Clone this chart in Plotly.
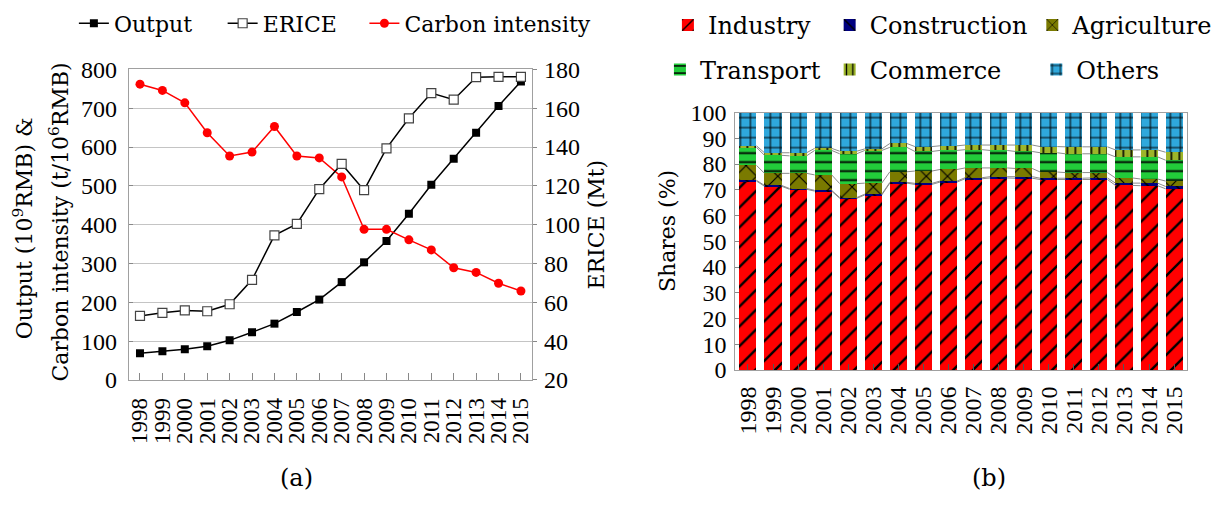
import plotly.graph_objects as go

# ---------------- data ----------------
years = ["1998", "1999", "2000", "2001", "2002", "2003", "2004", "2005", "2006",
         "2007", "2008", "2009", "2010", "2011", "2012", "2013", "2014", "2015"]

# (a) output (10^9 RMB), ERICE (Mt), carbon intensity (t/10^6 RMB)
output = [69, 74, 79, 87, 102, 123, 145, 175, 207, 252, 303, 358, 428, 503, 570, 637, 706, 769]
erice = [53.0, 54.6, 55.8, 55.4, 59.0, 71.6, 94.5, 100.4, 118.3, 131.3, 117.8, 139.3,
         154.8, 167.8, 164.4, 176.0, 176.2, 176.2]
carbon = [762, 746, 714, 637, 577, 587, 653, 577, 572, 523, 388, 388, 361, 335, 289, 277, 249, 229]

# (b) sector shares of ERICE (%)
industry = [73.4, 71.4, 70.2, 69.5, 66.7, 68.0, 72.6, 72.1, 73.0, 74.3, 74.6, 74.5,
            74.0, 74.0, 74.0, 71.7, 71.6, 70.4]
construction = [0.3, 0.3, 0.3, 0.3, 0.3, 0.3, 0.3, 0.4, 0.4, 0.4, 0.5, 0.6,
                0.5, 0.5, 0.6, 0.9, 1.0, 0.9]
agriculture = [5.8, 4.7, 5.9, 6.0, 5.4, 4.3, 4.1, 4.8, 4.5, 3.8, 3.4, 3.2,
               2.4, 2.2, 2.1, 2.0, 1.6, 2.1]
transport = [7.0, 7.0, 6.8, 9.5, 11.6, 12.7, 9.5, 7.6, 7.4, 7.1, 6.8, 6.6,
             7.5, 7.3, 7.3, 8.2, 8.6, 8.1]
commerce = [0.6, 1.0, 1.2, 0.8, 1.0, 0.6, 1.5, 1.9, 1.8, 1.8, 2.1, 2.5,
            2.4, 2.7, 2.7, 2.7, 2.7, 3.1]
others = [12.9, 15.6, 15.6, 13.9, 15.0, 14.1, 12.0, 13.2, 12.9, 12.6, 12.6, 12.6,
          13.2, 13.3, 13.3, 14.5, 14.5, 15.4]

left_ticks = [0, 100, 200, 300, 400, 500, 600, 700, 800]
right_ticks = [20, 40, 60, 80, 100, 120, 140, 160, 180]
share_ticks = [0, 10, 20, 30, 40, 50, 60, 70, 80, 90, 100]

# ---------------- page geometry helpers ----------------
W, H = 1230, 506


def fx(px):
    return px / W


def fy(py):
    return 1 - py / H


SERIF_NUM = "Liberation Serif"
SERIF_TXT = "DejaVu Serif"
pos = list(range(len(years)))

fig = go.Figure()

# ---------------- (a) line chart ----------------
fig.add_trace(go.Scatter(
    x=pos, y=output, name="Output", mode="lines+markers",
    line=dict(color="black", width=1.5),
    marker=dict(symbol="square", size=8, color="black"),
    xaxis="x", yaxis="y", legend="legend"))
fig.add_trace(go.Scatter(
    x=pos, y=erice, name="ERICE", mode="lines+markers",
    line=dict(color="black", width=1.5),
    marker=dict(symbol="square", size=9, color="white", line=dict(color="#444", width=1.2)),
    xaxis="x", yaxis="y2", legend="legend2"))
fig.add_trace(go.Scatter(
    x=pos, y=carbon, name="Carbon intensity", mode="lines+markers",
    line=dict(color="#ff0000", width=1.5),
    marker=dict(symbol="circle", size=9, color="#ff0000"),
    xaxis="x", yaxis="y", legend="legend3"))

# ---------------- (b) stacked bars ----------------
sectors = [
    ("Industry", industry, "#ff0000", "/", 14, 0.17, "legend4"),
    ("Construction", construction, "#000080", "\\", 10, 0.18, "legend5"),
    ("Agriculture", agriculture, "#7a7a00", "x", 15, 0.15, "legend6"),
    ("Transport", transport, "#22cc3a", "-", 9, 0.2, "legend7"),
    ("Commerce", commerce, "#9db52a", "|", 8, 0.2, "legend8"),
    ("Others", others, "#2fa8dc", "+", 10, 0.2, "legend9"),
]
for name, vals, col, shape, size, solid, leg in sectors:
    fig.add_trace(go.Bar(
        x=pos, y=vals, name=name,
        marker=dict(color=col, line=dict(width=0),
                    pattern=dict(shape=shape, fgcolor="black", bgcolor=col, fgopacity=1,
                                 size=size, solidity=solid, fillmode="overlay")),
        xaxis="x2", yaxis="y3", legend=leg))

# series lines joining segment boundaries of neighbouring bars
BARGAP = 0.32
hw = (1 - BARGAP) / 2
cum = [0.0] * len(years)
for name, vals, *_ in sectors[:-1]:
    cum = [c + v for c, v in zip(cum, vals)]
    lx, ly = [], []
    for i in range(len(years) - 1):
        lx += [pos[i] + hw, pos[i + 1] - hw, None]
        ly += [cum[i], cum[i + 1], None]
    fig.add_trace(go.Scatter(x=lx, y=ly, mode="lines", showlegend=False,
                             line=dict(color="#8c8c8c", width=1),
                             hoverinfo="skip", xaxis="x2", yaxis="y3"))

# ---------------- layout ----------------
num_font = dict(family=SERIF_NUM, size=24, color="black")
xnum_font = dict(family=SERIF_NUM, size=23, color="black")


def legend_at(px, py, size):
    return dict(x=fx(px), y=fy(py), xanchor="left", yanchor="middle",
                orientation="h", bgcolor="rgba(0,0,0,0)", borderwidth=0,
                font=dict(family=SERIF_TXT, size=size, color="black"),
                itemwidth=30)


fig.update_layout(
    width=W, height=H, margin=dict(l=0, r=0, t=0, b=0),
    paper_bgcolor="white", plot_bgcolor="white",
    barmode="stack", bargap=BARGAP,
    xaxis=dict(domain=[fx(128), fx(532)], anchor="y", range=[-0.5, 17.5],
               tickvals=pos, ticktext=years, tickangle=-90, tickfont=xnum_font,
               ticks="inside", ticklen=7, tickcolor="#888", ticklabelstandoff=8,
               showline=True, linecolor="#a0a0a0", linewidth=1, mirror=True,
               showgrid=False, zeroline=False),
    yaxis=dict(domain=[fy(386.8), fy(59.5)], anchor="x", range=[0, 800],
               tickvals=left_ticks, tickfont=num_font,
               ticks="inside", ticklen=4, tickcolor="#888", ticklabelstandoff=6,
               showline=True, linecolor="#a0a0a0", linewidth=1, mirror=True,
               showgrid=True, gridcolor="#c4c4c4", gridwidth=1, zeroline=False),
    yaxis2=dict(overlaying="y", side="right", anchor="x", range=[20, 180],
                tickvals=right_ticks, tickfont=num_font,
                ticks="outside", ticklen=4, tickcolor="#888", ticklabelstandoff=2,
                showline=False, showgrid=False, zeroline=False),
    xaxis2=dict(domain=[fx(735.6), fx(1187.6)], anchor="y3", range=[-0.5, 17.5],
                tickvals=pos, ticktext=years, tickangle=-90, tickfont=num_font,
                ticks="inside", ticklen=6, tickcolor="#555", ticklabelstandoff=6,
                showline=True, linecolor="#a0a0a0", linewidth=1, mirror=True,
                showgrid=False, zeroline=False),
    yaxis3=dict(domain=[fy(376.3), fy(105)], anchor="x2", range=[0, 100],
                tickvals=share_ticks, tickfont=num_font,
                ticks="inside", ticklen=4, tickcolor="#888", ticklabelstandoff=3,
                showline=True, linecolor="#a0a0a0", linewidth=1, mirror=True,
                showgrid=False, zeroline=False),
    legend=legend_at(73, 11, 22),
    legend2=legend_at(222, 11, 22),
    legend3=legend_at(364, 11, 22),
    legend4=legend_at(668, 13, 24),
    legend5=legend_at(830, 13, 24),
    legend6=legend_at(1033, 13, 24),
    legend7=legend_at(660, 60, 24),
    legend8=legend_at(830, 60, 24),
    legend9=legend_at(1037, 60, 24),
)

# axis titles and panel captions
txt = dict(family=SERIF_TXT, size=22, color="black")
annotations = [
    dict(text="Output (10<sup>9</sup>RMB) &", x=fx(22), y=fy(227), textangle=-90),
    dict(text="Carbon intensity (t/10<sup>6</sup>RMB)", x=fx(58), y=fy(220), textangle=-90),
    dict(text="ERICE (Mt)", x=fx(597), y=fy(223), textangle=-90),
    dict(text="Shares (%)", x=fx(667), y=fy(230), textangle=-90),
    dict(text="(a)", x=fx(296), y=fy(490), font=dict(family=SERIF_TXT, size=24, color="black")),
    dict(text="(b)", x=fx(990), y=fy(490), font=dict(family=SERIF_TXT, size=24, color="black")),
]
for a in annotations:
    a.setdefault("font", txt)
    fig.add_annotation(xref="paper", yref="paper", showarrow=False,
                       xanchor="center", yanchor="middle", **a)

fig.write_html("out.html")
